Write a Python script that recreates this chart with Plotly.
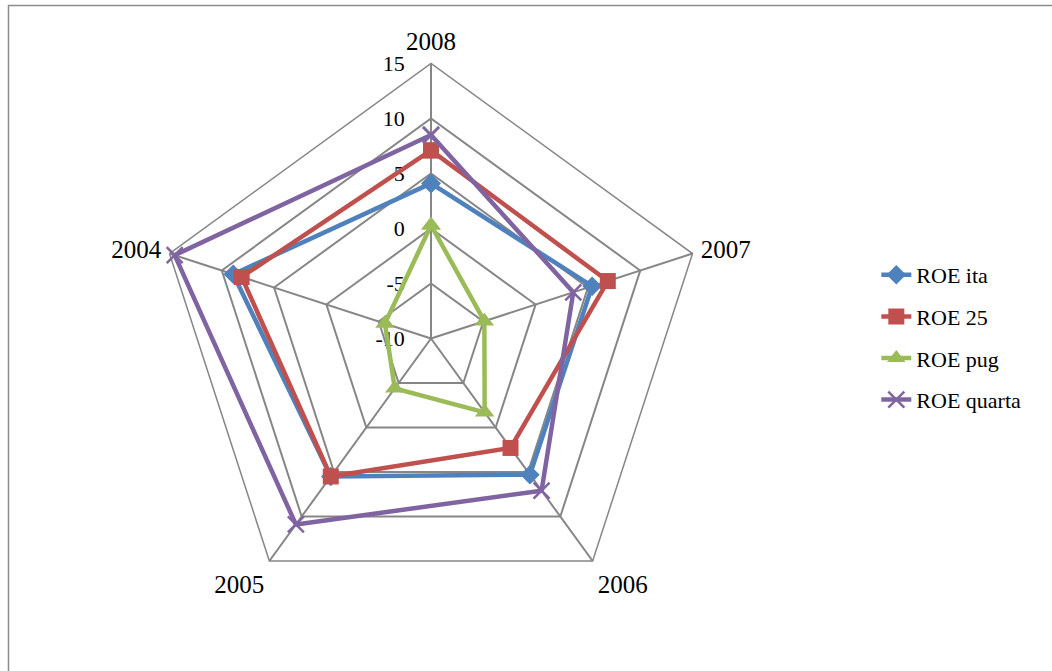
import plotly.graph_objects as go

# Years shown on the radar spokes (clockwise from the top)
years = ["2008", "2007", "2006", "2005", "2004"]

# ROE values (%) per series
roe_ita = [4.1, 5.4, 5.3, 5.5, 8.9]
roe_25 = [7.1, 6.9, 2.3, 5.5, 8.1]
roe_pug = [0.3, -4.9, -1.7, -4.4, -5.6]
roe_quarta = [8.5, 3.6, 7.1, 10.9, 14.5]

series_names = ["ROE ita", "ROE 25", "ROE pug", "ROE quarta"]
series_values = [roe_ita, roe_25, roe_pug, roe_quarta]
colors = ["#4F81BD", "#C0504D", "#9BBB59", "#8064A2"]
symbols = ["diamond", "square", "triangle-up", "x-thin"]
sizes = [15, 16, 17, 16]

radial_ticks = [-10, -5, 0, 5, 10, 15]
radial_ticktext = [str(v) for v in radial_ticks]  # plain hyphen minus
r_range = [-10, 15]

fig = go.Figure()

# Pentagon grid subplot ("polar"): only carries the category spokes, no points.
fig.add_trace(go.Scatterpolar(
    r=[None] * len(years), theta=years, mode="lines",
    showlegend=False, hoverinfo="skip", subplot="polar",
))

# Series are drawn on an overlaid circular polar subplot ("polar2") that shares
# the pentagon grid's angles and radial scale.
for i, (name, vals) in enumerate(zip(series_names, series_values)):
    marker = dict(symbol=symbols[i], size=sizes[i], color=colors[i],
                  line=dict(color=colors[i], width=2.5 if symbols[i] == "x-thin" else 0))
    fig.add_trace(go.Scatterpolar(
        r=vals + vals[:1],
        theta=years + years[:1],
        name=name,
        legendgroup=name,
        mode="lines+markers",
        line=dict(color=colors[i], width=4.5),
        marker=marker,
        subplot="polar2",
    ))

cx, cy, R = 431, 338.5, 275
W, H = 1052, 671
domain = dict(x=[(cx - R) / W, (cx + R) / W], y=[1 - (cy + R) / H, 1 - (cy - R) / H])
grey = "#868686"

fig.update_layout(
    width=W, height=H,
    margin=dict(l=0, r=0, t=0, b=0),
    paper_bgcolor="white",
    plot_bgcolor="white",
    font=dict(family="Liberation Serif, Times New Roman, serif", size=22, color="black"),
    polar=dict(
        domain=domain,
        bgcolor="white",
        gridshape="linear",
        angularaxis=dict(
            type="category", categoryorder="array", categoryarray=years,
            direction="clockwise", rotation=90,
            showline=True, linecolor=grey, linewidth=1.5,
            showgrid=True, gridcolor=grey, gridwidth=1.5,
            ticks="outside", ticklen=3, tickcolor="rgba(0,0,0,0)",
            tickfont=dict(size=25),
        ),
        radialaxis=dict(
            range=r_range, tickvals=radial_ticks, ticktext=radial_ticktext,
            angle=90, tickangle=90, side="counterclockwise",
            showline=False, ticks="outside", ticklen=18, tickcolor="rgba(0,0,0,0)",
            showgrid=True, gridcolor=grey, gridwidth=1.5,
            tickfont=dict(size=22),
        ),
    ),
    polar2=dict(
        domain=domain,
        bgcolor="rgba(0,0,0,0)",
        gridshape="circular",
        angularaxis=dict(
            type="category", categoryorder="array", categoryarray=years,
            direction="clockwise", rotation=90,
            showline=False, showgrid=False, showticklabels=False, ticks="",
        ),
        radialaxis=dict(
            range=r_range, angle=90,
            showline=False, showgrid=False, showticklabels=False, ticks="",
        ),
    ),
    legend=dict(
        x=0.833, y=0.497, xanchor="left", yanchor="middle",
        font=dict(size=22), tracegroupgap=10, traceorder="grouped",
        bgcolor="rgba(0,0,0,0)",
    ),
    shapes=[dict(
        type="rect", xref="paper", yref="paper",
        x0=8.5 / W, x1=1.01, y0=-0.01, y1=1 - 5.5 / H,
        line=dict(color="#8c8c8c", width=1.5), fillcolor="rgba(0,0,0,0)",
        layer="below",
    )],
)

fig.write_html("out.html")
